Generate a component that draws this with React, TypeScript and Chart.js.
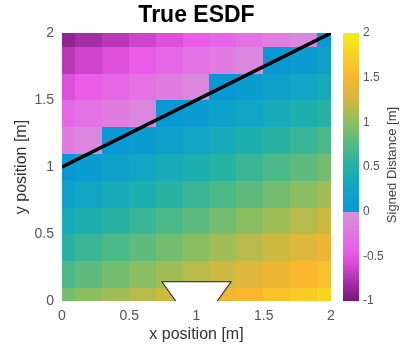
import React, { useEffect, useRef } from "react";
import { Chart, registerables } from "chart.js";

Chart.register(...registerables);

// ---- data ----
const xCenters = [0, 0.2, 0.4, 0.6, 0.8, 1.0, 1.2, 1.4, 1.6, 1.8, 2.0];
const yCenters = [0, 0.2, 0.4, 0.6, 0.8, 1.0, 1.2, 1.4, 1.6, 1.8, 2.0];
// signed distance rows, bottom (y=0) to top (y=2)
const sdfRows = [
  [0.89, 0.98, 1.07, 1.16, 1.25, 1.34, 1.43, 1.52, 1.61, 1.7, 1.79],
  [0.72, 0.8, 0.89, 0.98, 1.07, 1.16, 1.25, 1.34, 1.43, 1.52, 1.61],
  [0.54, 0.63, 0.72, 0.8, 0.89, 0.98, 1.07, 1.16, 1.25, 1.34, 1.43],
  [0.36, 0.45, 0.54, 0.63, 0.72, 0.8, 0.89, 0.98, 1.07, 1.16, 1.25],
  [0.18, 0.27, 0.36, 0.45, 0.54, 0.63, 0.72, 0.8, 0.89, 0.98, 1.07],
  [0.0, 0.09, 0.18, 0.27, 0.36, 0.45, 0.54, 0.63, 0.72, 0.8, 0.89],
  [-0.18, -0.09, 0.0, 0.09, 0.18, 0.27, 0.36, 0.45, 0.54, 0.63, 0.72],
  [-0.36, -0.27, -0.18, -0.09, 0.0, 0.09, 0.18, 0.27, 0.36, 0.45, 0.54],
  [-0.54, -0.45, -0.36, -0.27, -0.18, -0.09, 0.0, 0.09, 0.18, 0.27, 0.36],
  [-0.72, -0.63, -0.54, -0.45, -0.36, -0.27, -0.18, -0.09, 0.0, 0.09, 0.18],
  [-0.89, -0.8, -0.72, -0.63, -0.54, -0.45, -0.36, -0.27, -0.18, -0.09, 0.0],
];
const boundaryX = [0, 2];
const boundaryY = [1, 2];
// robot footprint outline (left side, top, right side)
const robotX = [0.85, 0.75, 1.25, 1.15];
const robotY = [0, 0.14, 0.14, 0];
// robot footprint lower path (filled up to its top edge)
const robotFillX = [0.75, 0.85, 1.15, 1.25];
const robotFillY = [0.14, 0, 0, 0.14];
const robotTop = 0.14;
const xRange = [0, 2];
const yRange = [0, 2];
const cbarRange = [-1, 2];
const axisStep = 0.5;

const titleText = "True ESDF";
const xLabel = "x position [m]";
const yLabel = "y position [m]";
const cbarLabel = "Signed Distance [m]";

// ---- colour map ----
const negStops: [number, number[]][] = [
  [-1.0, [120, 22, 122]],
  [-0.8, [165, 45, 165]],
  [-0.6, [212, 72, 212]],
  [-0.45, [232, 92, 232]],
  [-0.2, [226, 122, 226]],
  [0.0, [212, 148, 216]],
];
const posStops: [number, number[]][] = [
  [0.0, [8, 152, 212]],
  [0.25, [16, 166, 198]],
  [0.5, [32, 177, 168]],
  [0.75, [82, 186, 133]],
  [1.0, [142, 190, 94]],
  [1.25, [206, 185, 64]],
  [1.5, [250, 181, 46]],
  [1.75, [250, 208, 36]],
  [2.0, [244, 238, 22]],
];

function interp(stops: [number, number[]][], v: number): string {
  if (v <= stops[0][0]) return `rgb(${stops[0][1].join(",")})`;
  for (let k = 1; k < stops.length; k++) {
    if (v <= stops[k][0]) {
      const [v0, c0] = stops[k - 1];
      const [v1, c1] = stops[k];
      const t = (v - v0) / (v1 - v0);
      const c = c0.map((a, n) => Math.round(a + (c1[n] - a) * t));
      return `rgb(${c.join(",")})`;
    }
  }
  return `rgb(${stops[stops.length - 1][1].join(",")})`;
}
function colorOf(v: number): string {
  return v < 0 ? interp(negStops, v) : interp(posStops, v);
}

const FONT = "'Liberation Sans', Arial, Helvetica, sans-serif";

const heatmapPlugin = {
  id: "heatmap",
  beforeDatasetsDraw(chart: any) {
    const { ctx, chartArea, scales } = chart;
    const xs = scales.x;
    const ys = scales.y;
    const hx = (xCenters[1] - xCenters[0]) / 2;
    const hy = (yCenters[1] - yCenters[0]) / 2;
    ctx.save();
    ctx.beginPath();
    ctx.rect(chartArea.left, chartArea.top, chartArea.width, chartArea.height);
    ctx.clip();
    for (let j = 0; j < yCenters.length; j++) {
      for (let i = 0; i < xCenters.length; i++) {
        const x0 = xs.getPixelForValue(Math.max(xRange[0], xCenters[i] - hx));
        const x1 = xs.getPixelForValue(Math.min(xRange[1], xCenters[i] + hx));
        const y0 = ys.getPixelForValue(Math.min(yRange[1], yCenters[j] + hy));
        const y1 = ys.getPixelForValue(Math.max(yRange[0], yCenters[j] - hy));
        ctx.fillStyle = colorOf(sdfRows[j][i]);
        const L = Math.floor(x0), T = Math.floor(y0);
        ctx.fillRect(L, T, Math.ceil(x1) - L, Math.ceil(y1) - T);
      }
    }
    ctx.restore();
  },
  afterDraw(chart: any) {
    const { ctx, chartArea, scales } = chart;
    const cs = scales.y2;
    const top = cs.getPixelForValue(cbarRange[1]);
    const bottom = cs.getPixelForValue(cbarRange[0]);
    const left = chartArea.right + 12;
    const w = 16;
    ctx.save();
    for (let p = Math.floor(top); p < Math.ceil(bottom); p++) {
      const v = cs.getValueForPixel(p + 0.5);
      ctx.fillStyle = colorOf(Math.max(cbarRange[0], Math.min(cbarRange[1], v)));
      ctx.fillRect(left, p, w, 1);
    }
    // title, centred over the plot area
    ctx.font = `bold 23px ${FONT}`;
    ctx.fillStyle = "#000";
    ctx.textAlign = "center";
    ctx.textBaseline = "middle";
    ctx.fillText(titleText, (chartArea.left + chartArea.right) / 2, chartArea.top - 17);
    // colour bar label, reading bottom to top
    ctx.translate(chartArea.right + 61, (top + bottom) / 2 - 2);
    ctx.rotate(-Math.PI / 2);
    ctx.font = `13px ${FONT}`;
    ctx.fillStyle = "#444";
    ctx.textAlign = "center";
    ctx.textBaseline = "middle";
    ctx.fillText(cbarLabel, 0, 0);
    ctx.restore();
  },
};

export default function App() {
  const ref = useRef<HTMLCanvasElement | null>(null);

  useEffect(() => {
    if (!ref.current) return;
    const tickFmt = (v: any) => String(Number(v));
    const chart = new Chart(ref.current, {
      type: "scatter",
      data: {
        datasets: [
          {
            data: boundaryX.map((x, k) => ({ x, y: boundaryY[k] })),
            showLine: true,
            borderColor: "#000",
            borderWidth: 3.5,
            pointRadius: 0,
            fill: false,
          },
          {
            data: robotFillX.map((x, k) => ({ x, y: robotFillY[k] })),
            showLine: true,
            borderWidth: 0,
            borderColor: "rgba(0,0,0,0)",
            backgroundColor: "#fff",
            pointRadius: 0,
            fill: { target: { value: robotTop } },
            tension: 0,
          },
          {
            data: robotX.map((x, k) => ({ x, y: robotY[k] })),
            showLine: true,
            borderColor: "#222",
            borderWidth: 2,
            pointRadius: 0,
            fill: false,
            tension: 0,
          },
        ],
      },
      options: {
        animation: false,
        responsive: true,
        maintainAspectRatio: false,
        layout: { padding: { top: 33, left: 0, right: 0, bottom: 0 } },
        plugins: {
          legend: { display: false },
          tooltip: { enabled: false },
          title: { display: false },
        },
        scales: {
          x: {
            type: "linear",
            min: xRange[0],
            max: xRange[1],
            grid: { display: false, drawTicks: false },
            border: { display: false },
            ticks: {
              stepSize: axisStep,
              callback: tickFmt,
              color: "#555",
              padding: 7,
              font: { family: FONT, size: 14 },
              maxRotation: 0,
            },
            title: {
              display: true,
              text: xLabel,
              color: "#333",
              font: { family: FONT, size: 16 },
              padding: { top: 0, bottom: 3 },
            },
            afterFit: (s: any) => {
              s.height = 46;
            },
          },
          y: {
            type: "linear",
            position: "left",
            min: yRange[0],
            max: yRange[1],
            grid: { display: false, drawTicks: false },
            border: { display: false },
            ticks: {
              stepSize: axisStep,
              callback: tickFmt,
              color: "#555",
              padding: 8,
              font: { family: FONT, size: 14 },
            },
            title: {
              display: true,
              text: yLabel,
              color: "#333",
              font: { family: FONT, size: 16 },
              padding: { top: 12, bottom: 0 },
            },
            afterFit: (s: any) => {
              s.width = 62;
            },
          },
          y2: {
            type: "linear",
            position: "right",
            min: cbarRange[0],
            max: cbarRange[1],
            grid: {
              display: true,
              drawOnChartArea: false,
              drawTicks: true,
              tickLength: 28,
              color: "rgba(0,0,0,0)",
            },
            border: { display: false },
            ticks: {
              stepSize: axisStep,
              callback: tickFmt,
              color: "#555",
              padding: 4,
              font: { family: FONT, size: 12 },
            },
            afterFit: (s: any) => {
              s.width = 75;
            },
          },
        },
      } as any,
      plugins: [heatmapPlugin],
    });
    return () => chart.destroy();
  }, []);

  return (
    <div style={{ position: "absolute", left: 0, top: 0, width: 406, height: 347, background: "#fff" }}>
      <canvas ref={ref} />
    </div>
  );
}
